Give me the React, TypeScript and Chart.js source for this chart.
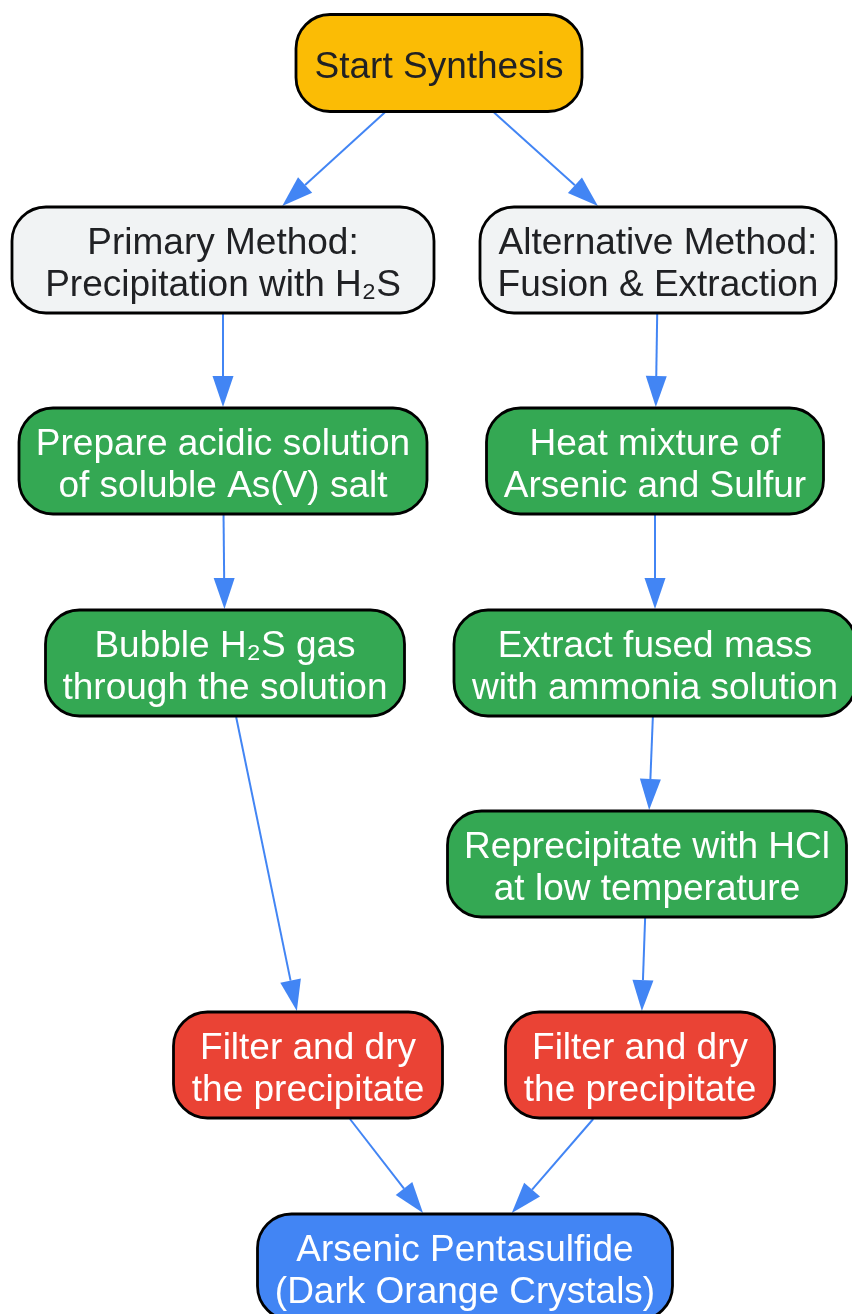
import React, { useEffect, useRef } from "react";
import { Chart, registerables } from "chart.js";

Chart.register(...registerables);

// ---- Data ----
const nodeLabels = [
  "Start Synthesis",
  "Primary Method:\nPrecipitation with H₂S",
  "Alternative Method:\nFusion & Extraction",
  "Prepare acidic solution\nof soluble As(V) salt",
  "Heat mixture of\nArsenic and Sulfur",
  "Bubble H₂S gas\nthrough the solution",
  "Extract fused mass\nwith ammonia solution",
  "Reprecipitate with HCl\nat low temperature",
  "Filter and dry\nthe precipitate",
  "Filter and dry\nthe precipitate",
  "Arsenic Pentasulfide\n(Dark Orange Crystals)",
];
const nodeX = [439, 223, 658, 223, 655, 225, 655, 647, 308, 640, 465];
const nodeY = [63, 260, 260, 461, 461, 663, 663, 864, 1065, 1065, 1267];
const nodeKinds = ["start", "method", "method", "step", "step", "step", "step", "step", "filter", "filter", "end"];
const edgeFrom = [0, 0, 1, 2, 3, 4, 5, 6, 7, 8, 9];
const edgeTo = [1, 2, 3, 4, 5, 6, 8, 7, 9, 10, 10];

// ---- Layout / style ----
const nodeWidths = [286, 422, 356, 408, 337, 359, 402, 399, 269, 269, 415];
const nodeHeights = [97, 106, 106, 106, 106, 106, 106, 106, 106, 106, 106];
const kindFill: Record<string, string> = {
  start: "#FBBC05",
  method: "#F1F3F4",
  step: "#34A853",
  filter: "#EA4335",
  end: "#4285F4",
};
const kindText: Record<string, string> = {
  start: "#202124",
  method: "#202124",
  step: "#FFFFFF",
  filter: "#FFFFFF",
  end: "#FFFFFF",
};
const FONT = '37px "Liberation Sans", Arial, "DejaVu Sans", sans-serif';
const LINE_H = 42;
const RADIUS = 34;
const EDGE_COLOR = "#4285F4";

function clipToBox(cx: number, cy: number, tx: number, ty: number, w: number, h: number) {
  const dx = tx - cx;
  const dy = ty - cy;
  const sx = dx !== 0 ? w / 2 / Math.abs(dx) : Infinity;
  const sy = dy !== 0 ? h / 2 / Math.abs(dy) : Infinity;
  const s = Math.min(sx, sy);
  return { x: cx + dx * s, y: cy + dy * s };
}

const flowPlugin = {
  id: "flowPlugin",
  afterDatasetsDraw(chart: any) {
    const ctx = chart.ctx as CanvasRenderingContext2D;
    const pts = chart.getDatasetMeta(0).data;
    ctx.save();
    // edges
    for (let e = 0; e < edgeFrom.length; e++) {
      const ia = edgeFrom[e];
      const ib = edgeTo[e];
      const a = pts[ia];
      const b = pts[ib];
      const p0 = clipToBox(a.x, a.y, b.x, b.y, nodeWidths[ia], nodeHeights[ia] + 2);
      const p1 = clipToBox(b.x, b.y, a.x, a.y, nodeWidths[ib], nodeHeights[ib] + 2);
      const ang = Math.atan2(p1.y - p0.y, p1.x - p0.x);
      const L = 31;
      const hw = 10.5;
      const bx = p1.x - Math.cos(ang) * L;
      const by = p1.y - Math.sin(ang) * L;
      ctx.strokeStyle = EDGE_COLOR;
      ctx.lineWidth = 2;
      ctx.beginPath();
      ctx.moveTo(p0.x, p0.y);
      ctx.lineTo(bx, by);
      ctx.stroke();
      ctx.fillStyle = EDGE_COLOR;
      ctx.beginPath();
      ctx.moveTo(p1.x, p1.y);
      ctx.lineTo(bx + Math.sin(ang) * hw, by - Math.cos(ang) * hw);
      ctx.lineTo(bx - Math.sin(ang) * hw, by + Math.cos(ang) * hw);
      ctx.closePath();
      ctx.fill();
    }
    // nodes
    for (let i = 0; i < pts.length; i++) {
      const p = pts[i];
      const w = nodeWidths[i];
      const h = nodeHeights[i];
      const x = p.x - w / 2;
      const y = p.y - h / 2;
      ctx.beginPath();
      (ctx as any).roundRect(x, y, w, h, RADIUS);
      ctx.fillStyle = kindFill[nodeKinds[i]];
      ctx.fill();
      ctx.lineWidth = 2.8;
      ctx.strokeStyle = "#000000";
      ctx.stroke();
      ctx.fillStyle = kindText[nodeKinds[i]];
      ctx.font = FONT;
      ctx.textAlign = "center";
      ctx.textBaseline = "middle";
      const lines = nodeLabels[i].split("\n");
      const start = p.y + 5 - ((lines.length - 1) * LINE_H) / 2;
      lines.forEach((ln, k) => ctx.fillText(ln, p.x, start + k * LINE_H));
    }
    ctx.restore();
  },
};

export default function App() {
  const ref = useRef<HTMLCanvasElement | null>(null);
  useEffect(() => {
    if (!ref.current) return;
    const chart = new Chart(ref.current, {
      type: "scatter",
      data: {
        datasets: [
          {
            data: nodeX.map((x, i) => ({ x, y: nodeY[i] })),
            pointRadius: 0,
            pointHoverRadius: 0,
          },
        ],
      },
      options: {
        responsive: false,
        animation: false,
        events: [],
        layout: { padding: 0 },
        plugins: { legend: { display: false }, tooltip: { enabled: false } },
        scales: {
          x: { type: "linear", min: 0, max: 852, display: false },
          y: { type: "linear", min: 0, max: 1314, reverse: true, display: false },
        },
      },
      plugins: [flowPlugin],
    });
    return () => chart.destroy();
  }, []);
  return (
    <div style={{ position: "absolute", left: 0, top: 0, width: 852, height: 1314, background: "#fff" }}>
      <canvas ref={ref} width={852} height={1314} style={{ display: "block" }} />
    </div>
  );
}
